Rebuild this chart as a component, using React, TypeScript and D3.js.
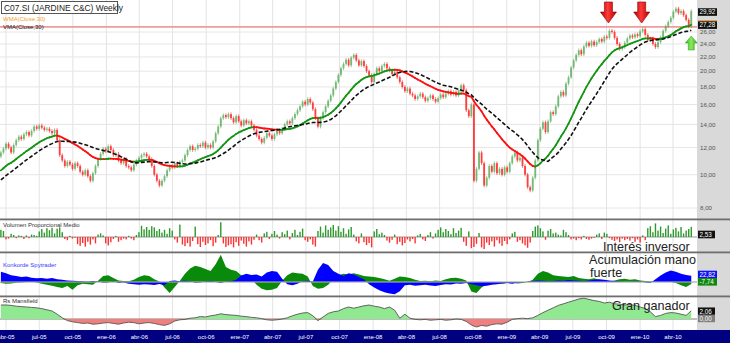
import React, { useEffect } from "react";
import * as d3 from "d3";

// ---------- DATA ----------
const TITLE = "C07.SI (JARDINE C&C) Weekly";
const FIRST_WEEK = new Date(2005, 2, 18);
const MONTH_LABELS = ["ene", "abr", "jul", "oct"];
const PRICE_TICKS = [8, 10, 12, 14, 16, 18, 20, 22, 24, 26];
const RESISTANCE = 26.9;
const MA_PERIOD = 30;

// closes of the 30 weeks before the first visible week (only used by the averages)
const WARMUP = [7.6, 7.8, 7.7, 8.0, 8.2, 8.1, 8.4, 8.6, 8.5, 8.8, 9.0, 8.9, 9.2, 9.4, 9.6, 9.5, 9.8, 10.0, 9.9, 10.2, 10.4, 10.3, 10.6, 10.8, 10.7, 11.0, 10.8, 11.1, 11.4, 11.3];

const CLOSES = [
  11.6, 11.9, 12.3, 12.0, 11.6, 12.2, 12.6, 12.9, 12.7, 13.1,
  13.3, 13.0, 13.4, 13.8, 13.6, 13.9, 13.7, 13.5, 13.6, 13.4,
  13.2, 13.5, 12.6, 11.4, 11.0, 10.6, 10.9, 10.7, 10.4, 10.8,
  10.6, 10.2, 10.0, 10.3, 9.9, 9.6, 10.1, 10.6, 11.1, 11.5,
  11.9, 11.7, 12.1, 11.8, 11.4, 11.5, 11.0, 10.8, 11.1, 10.6,
  10.5, 10.3, 10.7, 11.0, 11.2, 11.4, 11.5, 11.3, 11.1, 10.6,
  10.0, 9.6, 9.3, 9.6, 9.9, 10.3, 10.6, 10.5, 10.8, 10.6,
  10.9, 11.0, 11.4, 11.8, 12.1, 11.8, 11.9, 12.2, 12.1, 12.4,
  12.0, 12.2, 12.0, 12.5, 13.2, 13.8, 14.6, 14.9, 14.7, 15.0,
  14.6, 14.2, 14.8, 14.3, 13.9, 14.4, 14.1, 14.3, 13.9, 13.5,
  13.0, 12.7, 12.4, 12.8, 13.2, 13.0, 12.7, 13.1, 13.4, 13.2,
  13.6, 14.0, 14.3, 14.1, 14.6, 15.0, 15.4, 15.8, 16.3, 16.0,
  16.6, 16.2, 15.5, 14.6, 13.8, 14.6, 15.2, 15.8, 16.4, 17.0,
  17.8, 18.6, 19.5, 20.4, 21.0, 21.6, 20.8, 21.9, 22.3, 21.5,
  20.8, 21.4, 20.7, 20.0, 19.5, 18.6, 19.6, 20.4, 20.0, 20.7,
  21.0, 20.4, 20.1, 19.6, 19.9, 19.2, 18.6, 18.0, 17.5, 17.8,
  17.2, 17.0, 16.6, 16.9, 17.2, 16.8, 16.4, 16.7, 17.0, 16.6,
  16.3, 16.7, 17.1, 16.8, 17.2, 17.5, 17.1, 17.4, 17.0, 17.6,
  18.2, 17.6, 15.4, 14.8, 16.0, 9.6, 10.4, 11.6, 10.8, 9.3,
  9.8, 10.6, 10.2, 10.8, 10.1, 10.4, 10.0, 10.5, 10.2, 10.8,
  11.3, 11.6, 11.0, 11.2, 10.6, 10.0, 9.2, 9.0, 9.8, 11.0,
  12.6, 13.6, 14.2, 13.3, 14.3, 15.2, 15.0, 15.8, 16.9, 17.4,
  17.0, 18.4, 19.2, 20.5, 21.5, 22.3, 23.0, 22.4, 23.6, 24.2,
  23.7, 24.4, 23.8, 24.3, 24.8, 24.4, 25.2, 25.0, 26.2, 26.0,
  25.0, 24.0, 23.2, 23.5, 24.2, 24.9, 25.4, 25.1, 25.6, 25.3,
  26.1, 26.5, 25.5, 24.6, 24.9, 24.0, 23.5, 24.3, 25.1, 26.2,
  27.0, 27.8, 28.6, 29.8, 30.4, 29.5, 29.9, 29.1, 28.2, 27.0, 29.92,
];

const VOLUME = [
  1.8, 1.5, -0.6, -0.4, 0.8, 0.5, -0.3, 0.4, 0.3, -0.5,
  0.4, -0.3, 0.6, 0.5, 0.3, 1.4, 2.0, 1.1, 2.2, 1.7,
  2.3, 0.9, 2.1, 2.4, 1.2, -0.5, -0.8, 0.3, -0.4, -0.2,
  -1.8, -2.2, -1.5, -2.4, -1.2, -1.9, -0.6, -1.6, 0.6, 0.9,
  0.4, -1.6, -2.1, -1.3, -0.5, 0.3, -1.2, -0.8, -0.4, -0.6,
  0.3, -0.4, -0.8, 0.5, 1.2, 2.8, 1.9, 2.5, 1.8, 2.7,
  2.4, 1.5, 2.0, 1.1, 1.8, 0.8, 2.2, 1.6, -0.6, -1.4,
  3.1, -1.9, -2.3, -1.5, -2.4, -1.0, 2.6, -1.8, -2.5, -1.2,
  -2.0, -1.6, -0.8, -2.3, -1.4, 0.5, 3.7, -1.6, -2.5, -2.1,
  -1.8, -2.6, -1.3, -2.2, -0.9, -1.7, -2.4, -1.1, -1.9, -0.7,
  0.6, -0.8, -1.4, 0.9, 1.3, -0.5, 0.8, 1.5, 0.6, -0.4,
  1.2, 0.7, 1.6, -0.6, 1.0, 1.8, 0.5, 1.3, 2.1, -0.8,
  -1.2, -0.6, -1.9, -2.4, 1.5, 2.6, 1.1, 2.9, 1.8, 2.4,
  3.0, 1.6, 2.7, 1.3, 2.2, 0.8, 1.9, 2.5, 0.6, -1.1,
  -1.6, 0.9, -1.3, -2.0, -1.5, -2.6, 1.4, 2.0, 0.7, 1.1,
  0.5, -0.9, -1.4, -0.7, 0.6, -1.8, -1.2, -2.1, -1.5, -0.6,
  -1.1, -0.5, -1.6, 0.4, 0.8, -0.6, -1.0, 0.5, 1.2, -0.4,
  0.9, 1.8, 2.4, 1.2, 2.0, 1.5, 0.7, 2.2, 1.0, 1.6,
  2.3, -1.2, -2.2, 1.4, -2.8, -2.5, -1.7, 1.0, -2.6, -3.0,
  -1.4, -2.0, -1.1, -2.4, -0.8, -1.6, -2.2, -1.0, -1.8, -0.6,
  0.9, 1.3, -1.2, -0.8, -1.6, -2.1, -2.7, -1.4, 1.5, 2.6,
  2.9, 2.2, 1.4, -0.7, 1.6, 2.0, 0.9, 1.1, 0.6, 0.4,
  1.8, 1.2, 0.5, -0.6, -0.4, -0.8, -0.3, -0.6, 0.3, -0.5,
  -0.7, -0.4, -0.2, 0.6, 0.9, -0.5, 1.1, 0.8, -0.3, -0.7,
  -1.0, -0.6, -1.3, -0.4, -0.8, -0.5, -0.9, -0.3, -1.2, -0.6,
  -1.4, 0.4, -0.8, 2.2, 2.7, 1.2, 3.4, 1.6, 2.6, 1.0,
  2.1, 2.9, 0.8, 1.9, 2.3, 1.4, 2.5, 0.9, 1.6, 2.0, 2.53,
];

// Konkorde, one value every two weeks
const KONKORDE_BLUE = [
  38, 32, 25, 22, 18, 20, 16, 14, 15, 12,
  15, 10, 8, 6, 5, 4, 3, 2, 4, 2,
  -3, -2, 3, -4, -2, -6, -8, -10, -8, -9,
  -11, -7, -12, 4, 6, 3, 5, 2, -3, -2,
  2, 4, 0, -4, 1, 3, 8, 24, 30, 26,
  28, 20, 35, 40, 38, 12, -8, -12, -6, 3,
  5, 2, 45, 70, 62, 40, 30, 22, 32, 28,
  18, 10, -8, -20, -30, -38, -42, -45, -34, -12,
  -10, -14, -12, -10, -13, -15, -11, -8, -9, -5,
  -6, -4, -8, -12, -16, -14, -10, -8, -5, -4,
  -6, -3, -2, 2, 4, 6, 5, 3, 4, 6,
  5, 7, 6, 5, 3, 6, 8, 10, 8, 6,
  4, 2, 0, 1, 2, 3, -2, -4, 10, 24,
  35, 42, 38, 30, 26, 22.82,
];
const KONKORDE_GREEN = [
  -4, -6, -5, -3, -2, 0, 2, -2, -6, -10,
  -14, -18, -22, -15, -28, -12, -6, -8, -10, 5,
  22, 25, 15, 6, 4, 3, 8, 18, 25, 22,
  10, 2, -20, -40, -18, 5, 30, 50, 60, 55,
  48, 40, 65, 100, 55, 45, 40, 25, 18, 10,
  -10, -25, -30, -28, -22, 5, 25, 35, 32, 30,
  20, -15, -25, -22, -10, 10, 25, 30, 28, 32,
  28, 22, 20, 18, 15, 10, 5, 12, 20, 18,
  15, 8, 4, 5, 3, 6, 4, 10, 15, 16,
  12, 6, -35, -40, -20, -8, -5, -3, -6, -4,
  -2, -5, -4, 0, 8, 30, 40, 35, 25, 22,
  20, 18, 22, 15, 12, 10, 14, 8, 5, 3,
  6, 10, 12, 8, 10, 6, 4, 2, 5, 3,
  2, 0, -4, -12, -18, -7.74,
];

// Rs Mansfield, one value every two weeks
const MANSFIELD = [
  3.5, 3.5, 3.4, 3.2, 3.1, 3.0, 2.9, 2.8, 2.6, 2.3,
  2.0, 1.2, 0.3, -0.4, -0.7, -0.9, -1.1, -1.0, -1.3, -1.2,
  -1.0, -0.9, -1.1, -1.3, -1.0, -0.8, -0.9, -1.2, -1.0, -0.9,
  -1.1, -1.4, -1.6, -1.2, -0.5, -0.2, -0.1, 0.2, 0.3, 0.6,
  0.5, 0.8, 1.0, 1.3, 1.1, 1.0, 0.9, 0.7, 0.6, 0.4,
  0.3, 0.1, -0.2, -0.3, -0.2, 0.0, 0.3, 0.8, 1.2, 1.5,
  1.6, 0.8, -0.4, 0.5, 1.4, 1.8, 2.0, 2.6, 3.0, 2.7,
  3.0, 3.3, 3.5, 3.2, 3.0, 2.6, 3.0, 2.2, 0.2, 1.2,
  0.2, -0.1, -0.2, -0.1, -0.3, -0.2, -0.1, -0.3, -0.2, 0.0,
  -0.1, -0.6, -1.5, -2.0, -1.6, -1.8, -1.4, -1.2, -1.3, -0.8,
  -0.1, 0.1, 0.2, 0.1, 0.3, 0.9, 1.6, 2.2, 2.8, 3.4,
  3.8, 4.2, 4.6, 5.0, 5.2, 4.9, 4.6, 4.4, 4.0, 4.2,
  3.8, 3.7, 3.5, 3.6, 3.4, 3.0, 2.6, 1.8, 0.6, 0.9,
  1.4, 1.6, 1.5, 1.2, 0.9, 2.06,
];

const SIGNAL_DOWN_WEEKS = [238, 251];
const SIGNAL_UP_WEEK = 270;
const NOTES = [
  { text: "Interés inversor", panel: "vol" },
  { text: "Acumulación mano", panel: "kon1" },
  { text: "fuerte", panel: "kon2" },
  { text: "Gran ganador", panel: "mans" },
];

// ---------- CHART ----------
const W = 730;
const H = 343;
const PLOT_R = 697;
const MAIN_B = 219;
const KON_T = 252;
const MAN_T = 296, MAN_B = 330;
const FONT = "'Liberation Sans', Arial, sans-serif";

const DAY = 864e5;
const weekDate = (i: number) => new Date(FIRST_WEEK.getTime() + i * 7 * DAY);

function wma(arr: number[], n: number) {
  const out: number[] = [];
  const den = (n * (n + 1)) / 2;
  for (let i = n - 1; i < arr.length; i++) {
    let s = 0;
    for (let j = 0; j < n; j++) s += arr[i - j] * (n - j);
    out.push(s / den);
  }
  return out;
}
function sma(arr: number[], n: number) {
  const out: number[] = [];
  for (let i = n - 1; i < arr.length; i++) out.push(d3.mean(arr.slice(i - n + 1, i + 1)) as number);
  return out;
}
const fmt = (v: number) => v.toFixed(2).replace(".", ",");

export default function App() {
  useEffect(() => {
    document.body.style.margin = "0";
  }, []);

  const x = d3.scaleTime().domain([new Date(2005, 3, 1), new Date(2010, 3, 1)]).range([6, 673]);
  const y = d3.scaleLog().domain([8, 26]).range([208, 32]);
  const yv = d3.scaleLinear().domain([-4, 4]).range([253, 221]);
  const yk = d3.scaleLinear().domain([-55, 105]).range([297, 253.4]);
  const ym = d3.scaleLinear().domain([-2.75, 5.5]).range([330, 297]);

  const all = [...WARMUP, ...CLOSES];
  const wmaV = wma(all, MA_PERIOD).slice(all.length - MA_PERIOD + 1 - CLOSES.length);
  const smaV = sma(all, MA_PERIOD).slice(all.length - MA_PERIOD + 1 - CLOSES.length);
  const xi = (i: number) => x(weekDate(i));

  const ticks = d3.timeMonth.range(new Date(2005, 3, 1), new Date(2010, 5, 1), 3);

  const candles = CLOSES.map((c, i) => {
    const o = i === 0 ? WARMUP[WARMUP.length - 1] : CLOSES[i - 1];
    const up = c >= o;
    const hi = Math.max(o, c) * 1.012;
    const lo = Math.min(o, c) * 0.988;
    const cx = xi(i);
    const top = y(Math.max(o, c));
    const bot = y(Math.min(o, c));
    const col = up ? "#3f9f3f" : "#ff1e1e";
    return (
      <g key={i} opacity={up ? 0.72 : 0.85}>
        <line x1={cx} x2={cx} y1={y(hi)} y2={y(lo)} stroke={col} strokeWidth={1} opacity={0.7} />
        <rect x={cx - 0.9} y={top} width={1.8} height={Math.max(1, bot - top)} fill={col} />
      </g>
    );
  });

  const smaPath = d3.line<number>().x((_, i) => xi(i)).y((v) => y(v))(smaV) || "";
  const wmaSegs = wmaV.slice(1).map((v, k) => {
    const i = k + 1;
    const rising = v >= wmaV[i - 1];
    return (
      <line key={i} x1={xi(i - 1)} y1={y(wmaV[i - 1])} x2={xi(i)} y2={y(v)}
        stroke={rising ? "#139413" : "#ff1010"} strokeWidth={1.8} strokeLinecap="round" />
    );
  });

  const xk = (k: number) => xi(k * 2);
  const konArea = (arr: number[]) =>
    d3.area<number>().x((_, k) => xk(k)).y0(yk(0)).y1((v) => yk(v))(arr) || "";
  const manPos = d3.area<number>().x((_, k) => xk(k)).y0(ym(0)).y1((v) => ym(Math.max(0, v)))(MANSFIELD) || "";
  const manNeg = d3.area<number>().x((_, k) => xk(k)).y0(ym(0)).y1((v) => ym(Math.min(0, v)))(MANSFIELD) || "";
  const manLine = d3.line<number>().x((_, k) => xk(k)).y((v) => ym(v))(MANSFIELD) || "";

  const last = CLOSES[CLOSES.length - 1];
  const lastW = wmaV[wmaV.length - 1];

  const valueBox = (label: string, cy: number, fill: string, key: string, w = 19) => (
    <g key={key}>
      <rect x={698} y={cy - 3.8} width={w} height={7.6} fill={fill} />
      <text x={699.5} y={cy + 2.3} fontSize={6.3} fill="#fff" fontFamily={FONT}>{label}</text>
    </g>
  );

  const downArrow = (cx: number, key: string) => (
    <path key={key} d={`M${cx - 4},2 L${cx + 4},2 L${cx + 4},12 L${cx + 8},12 L${cx},23 L${cx - 8},12 L${cx - 4},12 Z`}
      fill="url(#redGrad)" stroke="#8a0000" strokeWidth={0.6} />
  );
  const upArrow = (cx: number) => (
    <path d={`M${cx},36 L${cx + 6},43 L${cx + 3},43 L${cx + 3},50 L${cx - 3},50 L${cx - 3},43 L${cx - 6},43 Z`}
      fill="url(#greenGrad)" stroke="#2f9a1a" strokeWidth={0.5} />
  );

  const notePos: Record<string, [number, number]> = {
    vol: [603, 250.5],
    kon1: [589, 263.5],
    kon2: [590, 277],
    mans: [612, 309.5],
  };

  return (
    <svg width={W} height={H} style={{ position: "fixed", left: 0, top: 0, background: "#fff" }}
      fontFamily={FONT}>
      <defs>
        <linearGradient id="redGrad" x1="0" x2="1" y1="0" y2="0">
          <stop offset="0" stopColor="#a30000" />
          <stop offset="0.45" stopColor="#ff3a3a" />
          <stop offset="1" stopColor="#b30000" />
        </linearGradient>
        <linearGradient id="greenGrad" x1="0" x2="1" y1="0" y2="0">
          <stop offset="0" stopColor="#33bb22" />
          <stop offset="0.5" stopColor="#8ae860" />
          <stop offset="1" stopColor="#33aa22" />
        </linearGradient>
        <clipPath id="mainClip"><rect x={0} y={0} width={PLOT_R} height={MAIN_B} /></clipPath>
        <clipPath id="plotClip"><rect x={0} y={0} width={PLOT_R} height={MAN_B} /></clipPath>
      </defs>

      {/* right grey band */}
      <rect x={PLOT_R} y={0} width={W - PLOT_R} height={MAN_B} fill="#d9d9d9" />

      {/* grids */}
      {ticks.map((t, i) => (
        <line key={i} x1={x(t)} x2={x(t)} y1={0} y2={MAN_B} stroke="#e3e3e3" strokeWidth={1} />
      ))}
      {PRICE_TICKS.map((p) => (
        <line key={p} x1={0} x2={PLOT_R} y1={y(p)} y2={y(p)} stroke="#e6e6e6" strokeWidth={1} />
      ))}
      {PRICE_TICKS.map((p) => (
        <text key={"t" + p} x={700} y={y(p) + 2.2} fontSize={6.2} fill="#555">{fmt(p)}</text>
      ))}

      {/* main panel */}
      <g clipPath="url(#mainClip)">
        <line x1={0} x2={PLOT_R} y1={y(RESISTANCE)} y2={y(RESISTANCE)} stroke="#f29a9a" strokeWidth={1.6} />
        {candles}
        {wmaSegs}
        <path d={smaPath} fill="none" stroke="#111" strokeWidth={1.6} strokeDasharray="4,2" />
      </g>
      {SIGNAL_DOWN_WEEKS.map((w, i) => downArrow(xi(w) - 1, "a" + i))}
      {upArrow(xi(SIGNAL_UP_WEEK))}

      <rect x={1.5} y={1.5} width={116} height={12} fill="#fff" stroke="#555" strokeWidth={1} />
      <text x={4} y={10.6} fontSize={8.4} fill="#222">{TITLE}</text>
      <text x={3} y={21} fontSize={6} fill="#f0a030">WMA(Close,30)</text>
      <text x={3} y={28.5} fontSize={6} fill="#111">VMA(Close,30)</text>

      {valueBox(fmt(last), y(last) + 1, "#111", "last")}
      <rect x={698} y={y(lastW) - 4.8} width={19} height={1.2} fill="#f0a030" />
      {valueBox(fmt(lastW), y(lastW) + 0.3, "#111", "wma")}

      {/* volume */}
      <g clipPath="url(#plotClip)">
        <line x1={0} x2={PLOT_R} y1={yv(0)} y2={yv(0)} stroke="#9a9a9a" strokeWidth={1} />
        {VOLUME.map((v, i) => (
          <rect key={i} x={xi(i) - 0.7} width={1.4}
            y={v >= 0 ? yv(v) : yv(0)} height={Math.abs(yv(v) - yv(0))}
            fill={v >= 0 ? "#2c9a2c" : "#ff3030"} />
        ))}
      </g>
      <text x={3} y={227} fontSize={6} fill="#333">Volumen Proporcional Medio</text>
      {valueBox("2,53", 234.5, "#111", "vol", 17)}

      {/* konkorde */}
      <g clipPath="url(#plotClip)">
        <path d={konArea(KONKORDE_GREEN)} fill="#0a8a0a" />
        <path d={konArea(KONKORDE_BLUE)} fill="#0000ff" />
        <line x1={0} x2={PLOT_R} y1={yk(0)} y2={yk(0)} stroke="#a8a8a8" strokeWidth={1.4} opacity={0.8} />
      </g>
      <text x={3} y={267} fontSize={6} fill="#3a3aff">Konkorde Spytrader</text>
      {valueBox(fmt(KONKORDE_BLUE[KONKORDE_BLUE.length - 1]), 274.5, "#1010ee", "kb")}
      {valueBox(fmt(KONKORDE_GREEN[KONKORDE_GREEN.length - 1]), 281.8, "#118811", "kg")}

      {/* mansfield */}
      <g clipPath="url(#plotClip)">
        <line x1={0} x2={PLOT_R} y1={ym(0)} y2={ym(0)} stroke="#aaa" strokeWidth={1.4} />
        <path d={manPos} fill="#90e890" />
        <path d={manNeg} fill="#f08080" />
        <path d={manLine} fill="none" stroke="#555" strokeWidth={0.9} />
      </g>
      <text x={3} y={303} fontSize={6} fill="#333">Rs Mansfield</text>
      {valueBox(fmt(MANSFIELD[MANSFIELD.length - 1]), ym(MANSFIELD[MANSFIELD.length - 1]) + 0.5, "#111", "m1", 17)}
      {valueBox(fmt(0), ym(0) - 0.6, "#808080", "m0", 17)}

      {/* panel separators */}
      {[MAIN_B, KON_T, MAN_T].map((yy, i) => (
        <rect key={i} x={0} y={yy - 0.5} width={W} height={1.8} fill="#6e6e6e" />
      ))}

      {/* annotations */}
      {NOTES.map((n) => (
        <text key={n.text} x={notePos[n.panel][0]} y={notePos[n.panel][1]} fontSize={12.6} fill="#222">
          {n.text}
        </text>
      ))}

      {/* time axis */}
      <rect x={0} y={MAN_B} width={W} height={H - MAN_B} fill="#000080" />
      {ticks.map((t, i) => (
        <text key={i} x={x(t)} y={338.5} fontSize={6} fill="#fff" textAnchor="middle">
          {MONTH_LABELS[Math.floor(t.getMonth() / 3)] + "-" + String(t.getFullYear()).slice(2)}
        </text>
      ))}
    </svg>
  );
}
